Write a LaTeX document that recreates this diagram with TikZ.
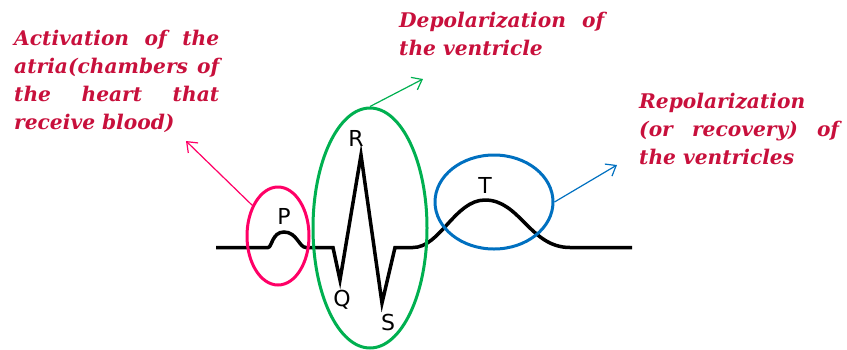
\documentclass[tikz,border=0pt]{standalone}
\usepackage{fontspec}
\setmainfont{DejaVu Serif}
\newfontfamily\lblfont{DejaVu Sans}
\usetikzlibrary{arrows.meta,shapes.geometric}
\definecolor{txtred}{RGB}{200,16,60}
\definecolor{pinkc}{RGB}{255,0,102}
\definecolor{greenc}{RGB}{0,176,80}
\definecolor{bluec}{RGB}{0,112,192}
\newcommand{\spreadline}[2]{\makebox[#1][s]{#2}}
\tikzset{
  caption/.style={anchor=north west, inner sep=0pt, align=left,
    text=txtred, font=\fontsize{20.2}{28}\selectfont\bfseries\itshape},
  wave/.style={line width=3.5pt, black, line join=miter},
  ring/.style={line width=3pt},
  pointer/.style={line width=1.2pt, -{Straight Barb[length=9pt,width=14pt,line width=1.2pt]}},
  lbl/.style={font=\lblfont\fontsize{22}{26}\selectfont, inner sep=0pt}
}
\begin{document}
\begin{tikzpicture}[x=1pt,y=-1pt]
\useasboundingbox (0,0) rectangle (847,349);
% captions
\node[caption] (ca) at (14,30) {\spreadline{205pt}{Activation of the}\\
  \spreadline{205pt}{atria(chambers of}\\
  \spreadline{205pt}{the heart that}\\
  receive blood)};
\node[caption] (cb) at (399,12) {\spreadline{205pt}{Depolarization of}\\
  the ventricle};
\node[caption] (cc) at (639,93) {Repolarization\\
  \spreadline{200pt}{(or recovery) of}\\
  the ventricles};
% ECG
\draw[wave] (216,247.5) -- (268,247.5) .. controls (272,247.5) and (272,232) .. (284,232)
  .. controls (297,232) and (299,247.5) .. (306,247.5) -- (333,247.5)
  -- (340,280) -- (361,155) -- (382,303) -- (395,247.5) -- (413,247.5)
  .. controls (440,247.5) and (455,200) .. (485,200)
  .. controls (520,200) and (530,247.5) .. (570,247.5) -- (632,247.5);
% labels
\node[lbl] (P) at (284,216) {P};
\node[lbl] (R) at (356,138) {R};
\node[lbl] (Q) at (342,300) {Q};
\node[lbl] (S) at (388,322) {S};
\node[lbl] (T) at (485,185) {T};
% ellipses
\node[ring, draw=pinkc, ellipse, minimum width=62pt, minimum height=98pt, inner sep=0pt] (ep) at (278,236) {};
\node[ring, draw=greenc, ellipse, minimum width=114pt, minimum height=240pt, inner sep=0pt] (eg) at (370,228) {};
\node[ring, draw=bluec, ellipse, minimum width=118pt, minimum height=94pt, inner sep=0pt] (eb) at (494,202) {};
% pointers
\coordinate (tp) at (186,141);
\coordinate (tg) at (423,79);
\coordinate (tb) at (617,165);
\draw[pointer, pinkc] (ep.130) -- (tp);
\draw[pointer, greenc] (eg.north) -- (tg);
\draw[pointer, bluec] (eb.east) -- (tb);
\end{tikzpicture}
\end{document}
